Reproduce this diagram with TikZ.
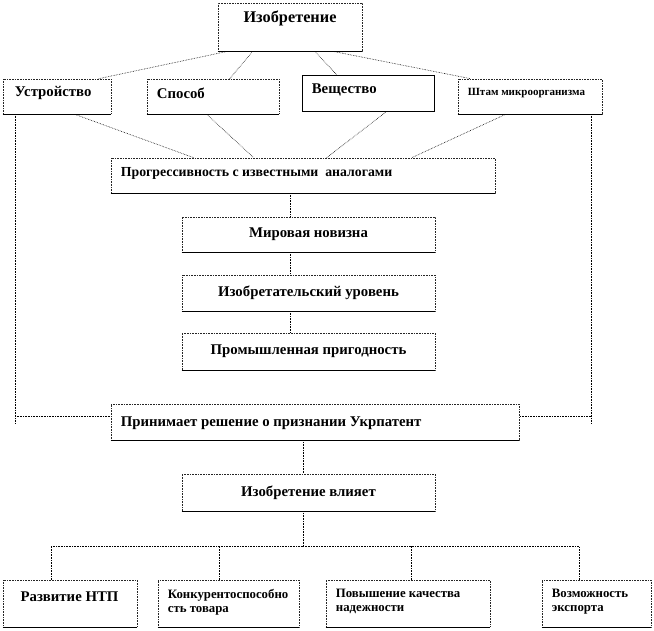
\documentclass[tikz,border=0pt]{standalone}
\usepackage{fontspec}
\setmainfont{Liberation Serif}
\usetikzlibrary{calc}
\tikzset{
  x=1pt,y=1pt,
  boxn/.style={draw=black!85, densely dotted, line width=0.6pt, inner sep=0pt, fill=white},
  conn/.style={draw=black, densely dotted, line width=0.6pt},
  txt/.style={inner sep=0pt, font=\fontsize{14.8}{16}\selectfont\bfseries},
  txtp/.style={inner sep=0pt, font=\fontsize{13.8}{16}\selectfont\bfseries},
  txtt/.style={inner sep=0pt, font=\fontsize{16.3}{18}\selectfont\bfseries},
  txts/.style={inner sep=0pt, font=\fontsize{11}{13}\selectfont\bfseries},
  txtb/.style={inner sep=0pt, align=left, font=\fontsize{12.8}{14.5}\selectfont\bfseries},
}
\newcommand{\mybox}[5]{% name, x1, x2, y1, y2
  \node[boxn, minimum width={#3-#2}, minimum height={#5-#4}] (#1) at ({(#2+#3)/2},{-(#4+#5)/2}) {};
  \draw[line width=0.7pt] (#1.south west) -- (#1.south east);
}
\begin{document}
\begin{tikzpicture}
\useasboundingbox (0,0) rectangle (654,-631);
% side lines (behind boxes)
\coordinate (lt) at (15,-114);
\coordinate (rt) at (591,-114);
\coordinate (lb) at (15,-423);
\coordinate (rb) at (591,-423);
\draw[conn] (lt) -- (lb);
\draw[conn] (rt) -- (rb);
% boxes
\mybox{inv}{218}{362}{3}{51}
\mybox{ust}{3}{111}{79}{114}
\mybox{spo}{147}{279}{79}{114}
\node[draw=black, line width=0.7pt, minimum width=132, minimum height=36, inner sep=0pt, fill=white] (ves) at (368,-93) {};
\mybox{sht}{458}{602}{79}{114}
\mybox{prog}{111}{495}{158}{193}
\mybox{mir}{182}{435}{217}{252}
\mybox{izu}{182}{435}{275}{311}
\mybox{pro}{182}{435}{333}{370}
\mybox{prin}{111}{519}{404}{440}
\mybox{vli}{182}{435}{474}{511}
\mybox{b1}{3}{137}{580}{627}
\mybox{b2}{158}{299}{580}{627}
\mybox{b3}{326}{490}{580}{627}
\mybox{b4}{542}{651}{580}{627}
% texts
\node[txtt] (tinv) at ([yshift=-16]inv.north) {Изобретение};
\node[txt, anchor=west] (tust) at ([xshift=12,yshift=3.5]ust.west) {Устройство};
\node[txt, anchor=west] (tspo) at ([xshift=10,yshift=3.5]spo.west) {Способ};
\node[txt, anchor=west] (tves) at ([xshift=10,yshift=3]ves.west) {Вещество};
\node[txts, anchor=west] (tsht) at ([xshift=10,yshift=3.5]sht.west) {Штам микроорганизма};
\node[txtp, anchor=west] (tprog) at ([xshift=10,yshift=2.5]prog.west) {Прогрессивность с известными\ \ аналогами};
\node[txt] (tmir) at (mir.center) {Мировая новизна};
\node[txt] (tizu) at (izu.center) {Изобретательский\ уровень};
\node[txt] (tpro) at (pro.center) {Промышленная пригодность};
\node[txt, anchor=west] (tprin) at ([xshift=10,yshift=-1]prin.west) {Принимает решение о признании Укрпатент};
\node[txt] (tvli) at (vli.center) {Изобретение влияет};
\node[txt] (tb1) at ([xshift=-0.5,yshift=6.5]b1.center) {Развитие НТП};
\node[txtb, anchor=north west] (tb2) at ([xshift=10,yshift=-9]b2.north west) {Конкурентоспособно\\сть товара};
\node[txtb, anchor=north west] (tb3) at ([xshift=10,yshift=-9]b3.north west) {Повышение качества\\надежности};
\node[txtb, anchor=north west] (tb4) at ([xshift=10,yshift=-9]b4.north west) {Возможность\\экспорта};
% connectors top
\draw[conn] ([xshift=10]inv.south west) -- ([xshift=96]ust.north west);
\draw[conn] ([xshift=35]inv.south west) -- ([xshift=83]spo.north west);
\draw[conn] ([xshift=97]inv.south west) -- ([xshift=35]ves.north west);
\draw[conn] ([xshift=115]inv.south west) -- ([xshift=13]sht.north west);
\draw[conn] ([xshift=72]ust.south west) -- ([xshift=83]prog.north west);
\draw[conn] ([xshift=60]spo.south west) -- ([xshift=143]prog.north west);
\draw[conn] ([xshift=85]ves.south west) -- ([xshift=216]prog.north west);
\draw[conn] ([xshift=48]sht.south west) -- ([xshift=301]prog.north west);
% side horizontals
\draw[conn] (lt |- prin.west) ++(0,6) -- ([yshift=6]prin.west);
\draw[conn] (rt |- prin.east) ++(0,6) -- ([yshift=6]prin.east);
% central chain
\draw[conn] ([xshift=-13]prog.south) -- ([xshift=-18.5]mir.north);
\draw[conn] ([xshift=-18.5]mir.south) -- ([xshift=-18.5]izu.north);
\draw[conn] ([xshift=-18.5]izu.south) -- ([xshift=-18.5]pro.north);
\draw[conn] ([xshift=-12]prin.south) -- ([xshift=-5.5]vli.north);
\coordinate (bus) at ([xshift=-5.5,yshift=-35]vli.south);
\draw[conn] ([xshift=-5.5]vli.south) -- (bus);
\draw[conn] (b1.north) ++(-19,0) |- (bus);
\draw[conn] (b4.north) ++(-17.5,0) |- (bus);
\draw[conn] ([xshift=-9.5]b2.north) -- ([xshift=-9.5,yshift=34]b2.north);
\draw[conn] ([xshift=3]b3.north) -- ([xshift=3,yshift=34]b3.north);
\end{tikzpicture}
\end{document}
